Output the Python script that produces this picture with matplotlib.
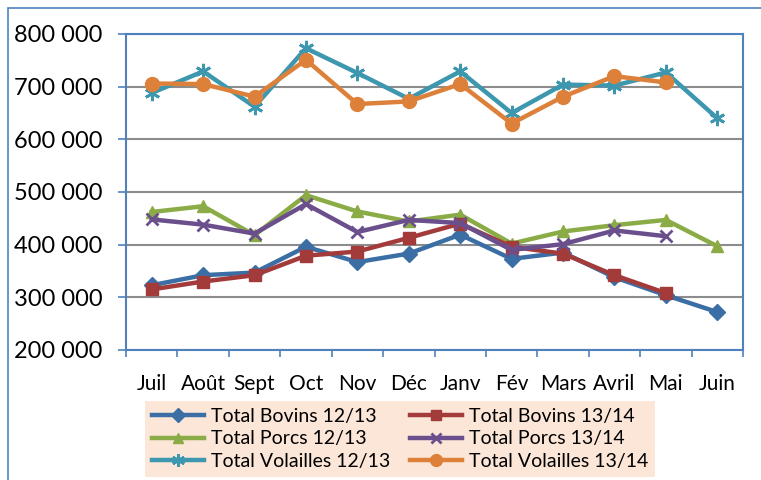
import matplotlib
matplotlib.use("Agg")
import matplotlib.pyplot as plt
from matplotlib.patches import Rectangle
from matplotlib.ticker import FuncFormatter, FixedLocator

plt.rcParams['font.family'] = ['Lato', 'DejaVu Sans']

months = ["Juil", "Août", "Sept", "Oct", "Nov", "Déc", "Janv", "Fév", "Mars", "Avril", "Mai", "Juin"]

bovins_1213 = [323000, 342000, 347000, 396000, 367000, 383000, 419000, 373000, 385000, 338000, 304000, 272000]
bovins_1314 = [315000, 330000, 342000, 379000, 387000, 413000, 440000, 396000, 383000, 342000, 308000]
porcs_1213 = [462000, 473000, 418000, 494000, 463000, 444000, 457000, 402000, 425000, 437000, 447000, 397000]
porcs_1314 = [448000, 438000, 421000, 477000, 424000, 447000, 441000, 390000, 401000, 427000, 416000]
volailles_1213 = [688000, 729000, 662000, 773000, 726000, 677000, 729000, 650000, 704000, 702000, 727000, 640000]
volailles_1314 = [706000, 705000, 681000, 751000, 667000, 672000, 705000, 630000, 681000, 720000, 708000]

labels = ["Total Bovins 12/13", "Total Bovins 13/14", "Total Porcs 12/13",
          "Total Porcs 13/14", "Total Volailles 12/13", "Total Volailles 13/14"]
series = [bovins_1213, bovins_1314, porcs_1213, porcs_1314, volailles_1213, volailles_1314]
colors = ["#3B6EA5", "#A33B3A", "#8AAB45", "#6B4F8C", "#3D97AE", "#DD813A"]
markers = ["D", "s", "^", "x", (6, 2, 0), "o"]
msizes = [8, 9, 9, 9, 11, 10]

fig = plt.figure(figsize=(7.61, 4.80), dpi=100)
fig.patches.append(Rectangle((8/761, -0.2), 1.2, 1.2 - 8/480, transform=fig.transFigure,
                             fill=False, edgecolor="#4F81BD", linewidth=1.2))
ax = fig.add_axes([126/761, 1 - 350/480, (743 - 126)/761, (350 - 34)/480])

x_all = list(range(len(months)))
zorders = [3, 4, 3, 4, 3, 4]
handles = []
for vals, lab, c, m, ms, z in zip(series, labels, colors, markers, msizes, zorders):
    xs = x_all[:len(vals)]
    mew = 2 if m in ("x", (6, 2, 0)) else 1
    h, = ax.plot(xs, vals, color=c, lw=3.2, marker=m, markersize=ms, markeredgewidth=mew,
                 markerfacecolor=c, markeredgecolor=c, label=lab, zorder=z)
    handles.append(h)

ax.set_xlim(-0.5, 11.5)
ax.set_ylim(200000, 800000)
ax.set_yticks(range(200000, 800001, 100000))
ax.yaxis.set_major_formatter(FuncFormatter(lambda v, p: f"{int(v):,}".replace(",", " ")))
ax.set_xticks(x_all)
ax.set_xticklabels(months)
ax.xaxis.set_minor_locator(FixedLocator([i + 0.5 for i in range(-1, 12)]))
ax.tick_params(axis="x", which="major", length=0, pad=17, labelsize=15)
ax.tick_params(axis="x", which="minor", length=5, width=1.2, color="#4F81BD", direction="out")
ax.tick_params(axis="y", length=6, width=1.2, color="#4F81BD", pad=11, labelsize=17)

ax.grid(axis="y", color="#8C8C8C", linewidth=1.5, zorder=0)
ax.set_axisbelow(True)
for s in ax.spines.values():
    s.set_color("#4F81BD")
    s.set_linewidth(1.5)

order = [0, 2, 4, 1, 3, 5]
leg = fig.legend([handles[i] for i in order], [labels[i] for i in order],
                 loc="lower left", bbox_to_anchor=(145/761, 3/480), ncol=2,
                 fontsize=14, handlelength=2.7, frameon=True, fancybox=False,
                 facecolor="#FBE6D8", edgecolor="none", framealpha=1,
                 borderpad=0.35, labelspacing=0.3, columnspacing=1.0, handletextpad=0.35,
                 borderaxespad=0, markerscale=0.85)

fig.savefig("out.png", dpi=100)
